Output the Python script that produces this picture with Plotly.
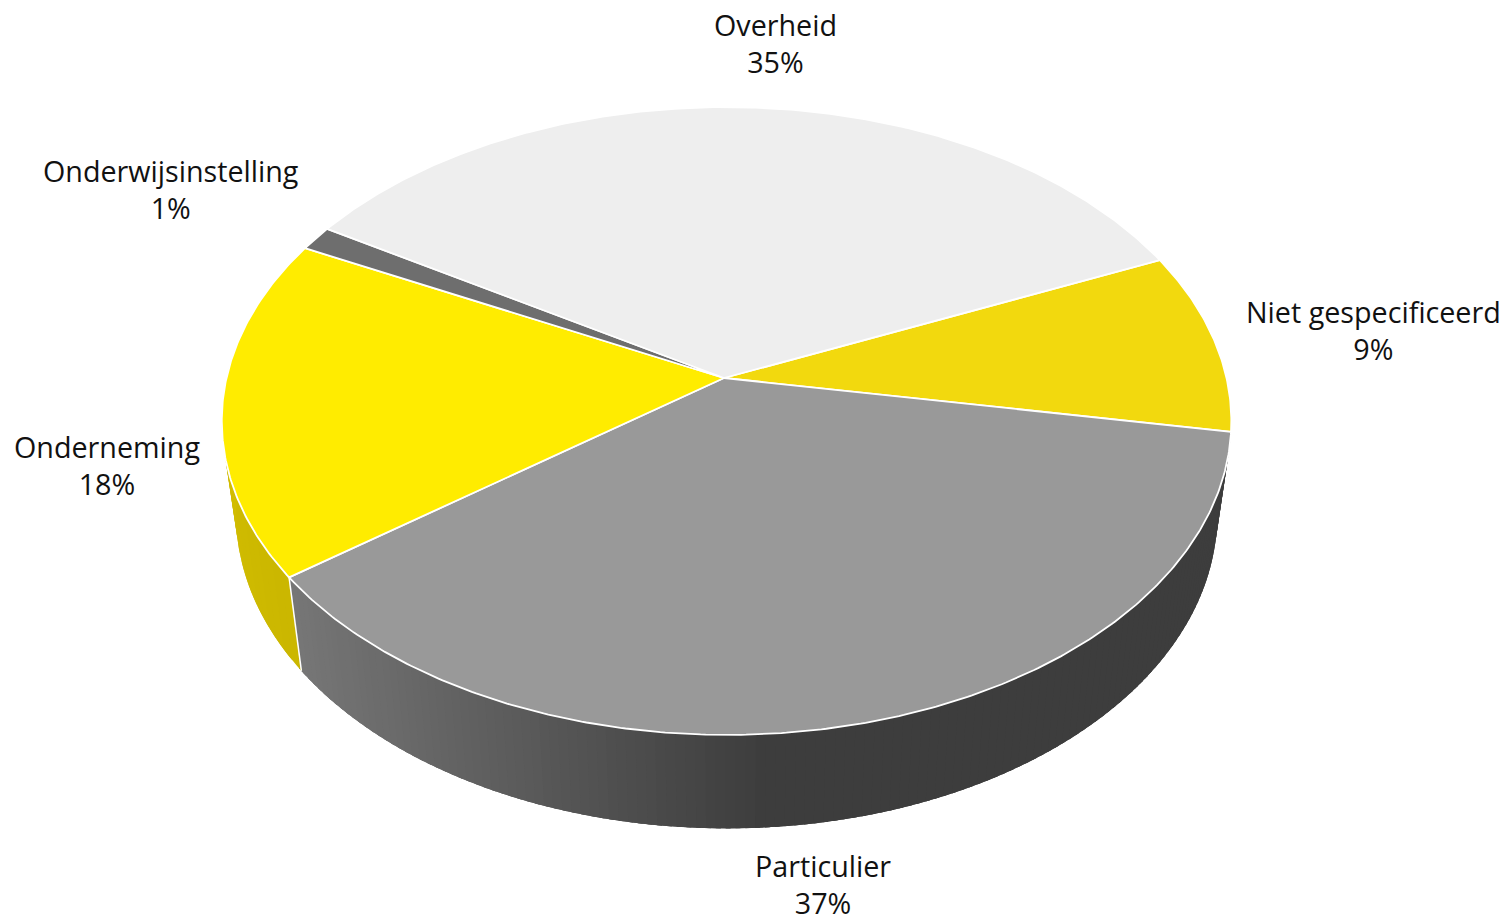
import math
import plotly.graph_objects as go

categories = ["Niet gespecificeerd", "Particulier", "Onderneming", "Onderwijsinstelling", "Overheid"]
values = [9.3, 37.1, 17.6, 1.3, 34.7]
shown = ["9%", "37%", "18%", "1%", "35%"]
colors = ["#f2d90e", "#999999", "#ffec00", "#6e6e6e", "#eeeeee"]
label_x = [1373, 823, 107, 170, 775]
label_y = [330, 884, 465, 189, 43]
START = -23.7

# Perspective of the pie's top disc on the canvas
CX, CY, B, A, K, J = 724.0, 378.0, 500.0, 308.0, 0.137, 0.005
RIM_CX, X_SHRINK, DROP = 729.0, 0.972, 93.5


def top(deg):
    t = math.radians(deg)
    w = 1 - K * math.sin(t) - J * math.cos(t)
    return CX + B * math.cos(t) / w, CY + A * math.sin(t) / w


def bottom(deg):
    x, y = top(deg)
    return RIM_CX + X_SHRINK * (x - RIM_CX), y + DROP


def arc(fn, a, b, step=0.5):
    n = max(2, int(abs(b - a) / step))
    return [fn(a + (b - a) * i / n) for i in range(n + 1)]


edges = [START]
for v in values:
    edges.append(edges[-1] + v * 3.6)

fig = go.Figure()


def poly(pts, fill, line=None, width=0):
    fig.add_trace(go.Scatter(
        x=[p[0] for p in pts], y=[p[1] for p in pts], mode="lines", fill="toself",
        fillcolor=fill, line=dict(color=line or fill, width=width),
        hoverinfo="skip", showlegend=False))


# Outer wall: strips overlap so that the shading has no seams
def wall_color(x):
    f = min(1, max(0, (x - 300) / 480))
    g = round(0x76 + (0x3d - 0x76) * f)
    return f"rgb({g},{g},{g})"


a = edges[2]
while a > max(edges[1], 2):
    b = max(a - 1.0, max(edges[1], 2))
    pts = arc(top, b, edges[2] if a == edges[2] else a + 1.5) + arc(bottom, edges[2] if a == edges[2] else a + 1.5, b)
    poly(pts, wall_color(top((a + b) / 2)[0]))
    a = b

a = edges[2]
while a < 186:
    b = min(a + 2.0, 186)
    pts = arc(top, a, min(b + 2.0, 186)) + arc(bottom, min(b + 2.0, 186), a)
    f = (a - edges[2]) / (186 - edges[2])
    c = f"rgb({round(0xcb + 10 * f)},{round(0xb7 + 9 * f)},0)"
    poly(pts, c)
    a = b

# Edge between the two walls
p, q = top(edges[2]), bottom(edges[2])
fig.add_trace(go.Scatter(x=[p[0], q[0]], y=[p[1], q[1]], mode="lines",
                         line=dict(color="white", width=1.5), hoverinfo="skip", showlegend=False))

# Top surface
for i, c in enumerate(colors):
    pts = [(CX, CY)] + arc(top, edges[i], edges[i + 1]) + [(CX, CY)]
    poly(pts, c, line="white", width=1.8)

annotations = [
    dict(x=lx, y=ly, xref="x", yref="y", text=f"{n}<br>{s}", showarrow=False,
         font=dict(family="Open Sans", size=28.7, color="#111111"), align="center",
         xanchor="center", yanchor="middle")
    for n, s, lx, ly in zip(categories, shown, label_x, label_y)
]

fig.update_layout(
    width=1505, height=922, margin=dict(l=0, r=0, t=0, b=0),
    paper_bgcolor="white", plot_bgcolor="white", annotations=annotations,
    xaxis=dict(range=[0, 1505], visible=False, fixedrange=True),
    yaxis=dict(range=[922, 0], visible=False, fixedrange=True),
)
fig.write_html("out.html", config=dict(displayModeBar=False),
               post_script="document.body.style.margin='0';document.body.style.overflow='hidden';")
